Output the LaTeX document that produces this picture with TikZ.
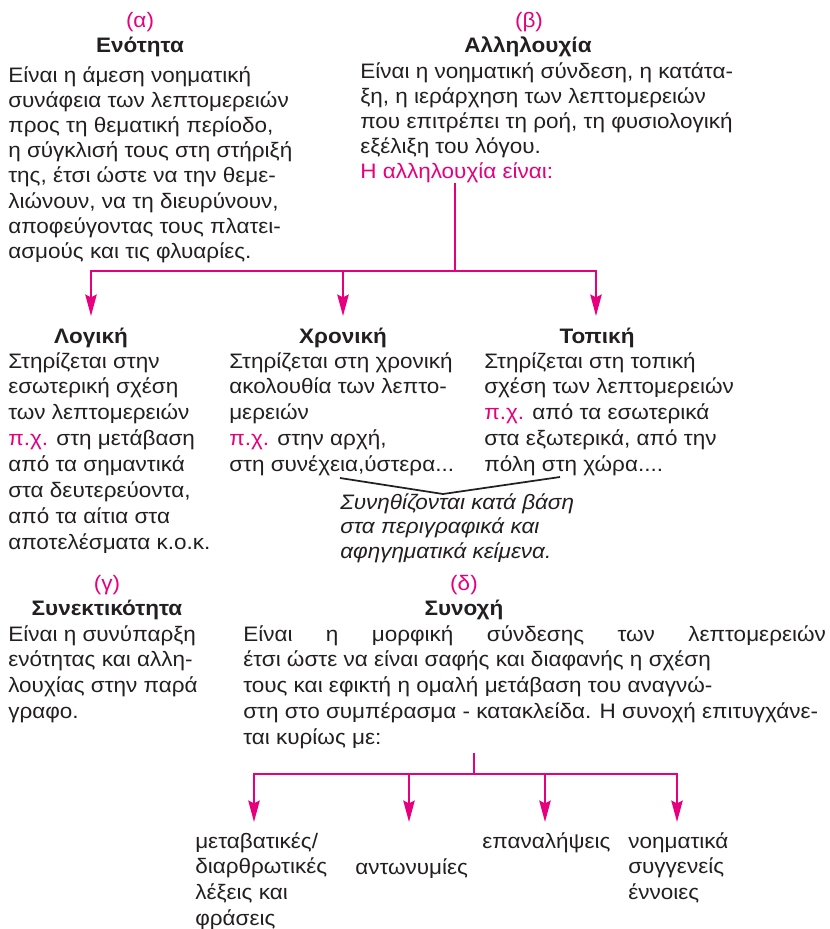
\documentclass[tikz,border=0pt]{standalone}
\usepackage{fontspec}
\setmainfont{Liberation Sans}[FakeStretch=1.075]
\usetikzlibrary{arrows.meta}

\definecolor{brandpink}{RGB}{230,0,126}
\definecolor{inkgray}{RGB}{35,31,32}

% lines of a text block, the block sits on the baseline of its first line
\newcommand{\textlines}[1]{\begin{tabular}[t]{@{}l@{}}#1\end{tabular}}

\tikzset{
  txt/.style={anchor=base west, inner sep=0pt, text=inkgray,
    font=\fontsize{15.7}{18.9}\selectfont},
  loose/.style={font=\fontsize{15.7}{19.4}\selectfont},
  hdr/.style={anchor=base, inner sep=0pt, text=inkgray,
    font=\fontsize{15.7}{18.9}\selectfont\bfseries},
  tag/.style={anchor=base, inner sep=0pt, text=brandpink,
    font=\fontsize{15.7}{18.9}\selectfont},
  note/.style={txt, font=\fontsize{15.7}{18.4}\selectfont\itshape},
  link/.style={brandpink, line width=1.5pt},
  pointer/.style={link, -{Stealth[length=16pt, width=8.5pt, inset=2pt]}},
  bracket/.style={inkgray, line width=1.3pt},
}

\begin{document}
\begin{tikzpicture}[x=0.75pt, y=-0.75pt]
  \useasboundingbox (0,0) rectangle (829,929);

  % (a) unity
  \node [tag] (alpha) at (140,27) {(α)};
  \node [hdr] (enotita) at (140,52) {Ενότητα};
  \node [txt] (enotitatxt) at (8,82) {\textlines{Είναι η άμεση νοηματική\\συνάφεια των λεπτομερειών\\προς τη θεματική περίοδο,\\η σύγκλισή τους στη στήριξή\\της, έτσι ώστε να την θεμε-\\λιώνουν, να τη διευρύνουν,\\αποφεύγοντας τους πλατει-\\ασμούς και τις φλυαρίες.}};

  % (b) sequence
  \node [tag] (beta) at (529,27) {(β)};
  \node [hdr] (allilouxia) at (528,52) {Αλληλουχία};
  \node [txt] (allilouxiatxt) at (360,78) {\textlines{Είναι η νοηματική σύνδεση, η κατάτα-\\ξη, η ιεράρχηση των λεπτομερειών\\που επιτρέπει τη ροή, τη φυσιολογική\\εξέλιξη του λόγου.\\\textcolor{brandpink}{Η αλληλουχία είναι:}}};

  % three kinds of sequence
  \node [hdr] (logiki) at (91,343) {Λογική};
  \node [txt, loose] (logikitxt) at (8,368) {\textlines{Στηρίζεται στην\\εσωτερική σχέση\\των λεπτομερειών\\\textcolor{brandpink}{π.χ.} στη μετάβαση\\από τα σημαντικά\\στα δευτερεύοντα,\\από τα αίτια στα\\αποτελέσματα κ.ο.κ.}};
  \node [hdr] (xroniki) at (343,343) {Χρονική};
  \node [txt, loose] (xronikitxt) at (229,368) {\textlines{Στηρίζεται στη χρονική\\ακολουθία των λεπτο-\\μερειών\\\textcolor{brandpink}{π.χ.} στην αρχή,\\στη συνέχεια,ύστερα...}};
  \node [hdr] (topiki) at (597,343) {Τοπική};
  \node [txt, loose] (topikitxt) at (484,368) {\textlines{Στηρίζεται στη τοπική\\σχέση των λεπτομερειών\\\textcolor{brandpink}{π.χ.} από τα εσωτερικά\\στα εξωτερικά, από την\\πόλη στη χώρα....}};
  \node [note] (usage) at (340,509) {\textlines{Συνηθίζονται κατά βάση\\στα περιγραφικά και\\αφηγηματικά κείμενα.}};

  \coordinate (bsrc) at (455,183);
  \coordinate (bjoin) at (455,271);
  \coordinate (tipl) at (91,316);
  \coordinate (tipc) at (343,316);
  \coordinate (tipr) at (596,316);
  \draw [link] (bsrc) -- (bjoin);
  \draw [pointer] (bjoin) -| (tipl);
  \draw [pointer] (bjoin) -| (tipc);
  \draw [pointer] (bjoin) -| (tipr);

  \coordinate (brl) at (340,478);
  \coordinate (brm) at (443,494);
  \coordinate (brr) at (560,477);
  \draw [bracket] (brl) -- (brm) -- (brr);

  % (c) coherence
  \node [tag] (gamma) at (107,590) {(γ)};
  \node [hdr] (synektikotita) at (107,615) {Συνεκτικότητα};
  \node [txt, loose] (synektikotitatxt) at (8,641) {\textlines{Είναι η συνύπαρξη\\ενότητας και αλλη-\\λουχίας στην παρά\\γραφο.}};

  % (d) cohesion
  \node [tag] (delta) at (464,590) {(δ)};
  \node [hdr] (synoxi) at (464,615) {Συνοχή};
  \node [txt, loose] (synoxitxt) at (243,641) {\textlines{\makebox[437pt][s]{Είναι η μορφική σύνδεσης των λεπτομερειών}\\έτσι ώστε να είναι σαφής και διαφανής η σχέση\\τους και εφικτή η ομαλή μετάβαση του αναγνώ-\\στη στο συμπέρασμα - κατακλείδα. Η συνοχή επιτυγχάνε-\\ται κυρίως με:}};

  \node [txt, loose] (metavatikes) at (195,848) {\textlines{μεταβατικές/\\διαρθρωτικές\\λέξεις και\\φράσεις}};
  \node [txt] (antonymies) at (355,874) {αντωνυμίες};
  \node [txt] (epanalipseis) at (482,848) {επαναλήψεις};
  \node [txt, loose] (syggeneis) at (628,848) {\textlines{νοηματικά\\συγγενείς\\έννοιες}};

  \coordinate (dsrc) at (474,753);
  \coordinate (djoin) at (474,774);
  \coordinate (tip1) at (254,822);
  \coordinate (tip2) at (409,822);
  \coordinate (tip3) at (545,822);
  \coordinate (tip4) at (677,822);
  \draw [link] (dsrc) -- (djoin);
  \foreach \t in {tip1,tip2,tip3,tip4}
    \draw [pointer] (djoin) -| (\t);
\end{tikzpicture}
\end{document}
